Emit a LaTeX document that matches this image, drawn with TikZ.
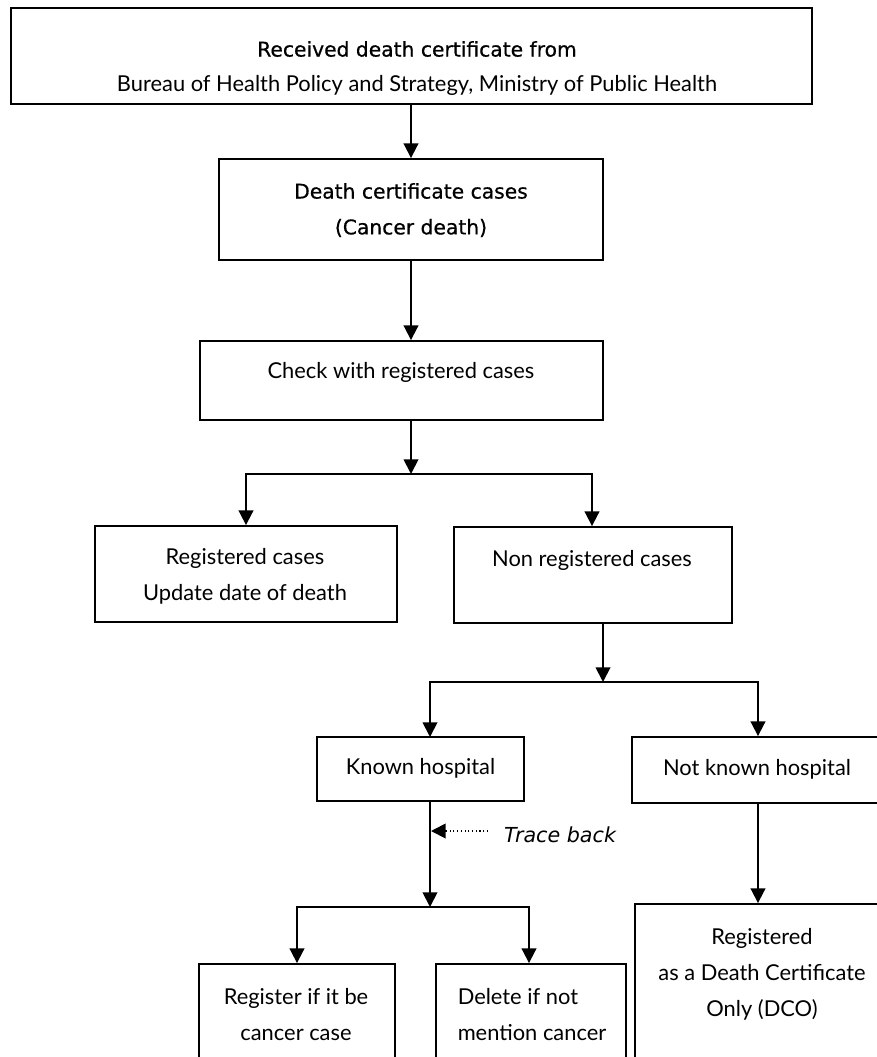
\documentclass[tikz,border=0pt]{standalone}
\usepackage{fontspec}
\setmainfont{Lato}
\newfontfamily\tahfont[FakeBold=0.6]{DejaVu Sans}
\newfontfamily\obfont{DejaVu Sans}
\usetikzlibrary{arrows.meta,calc}
\begin{document}
\begin{tikzpicture}[x=0.75pt,y=-0.75pt,
  box/.style 2 args={draw, line width=1.4pt, inner sep=0pt, minimum width=#1*0.75pt, minimum height=#2*0.75pt},
  txt/.style={inner sep=0pt, align=center, font=\fontsize{16.4}{27}\selectfont},
  tah/.style={inner sep=0pt, align=center, font=\tahfont\fontsize{15.2}{27}\selectfont},
  ln/.style={line width=1.4pt},
  arr/.style={line width=1.4pt, -{Triangle[length=11pt,width=11pt]}}]
\useasboundingbox (0,0) rectangle (877,1057);
% boxes
\node[box={801}{96}] (b1) at (411.5,56) {};
\node[box={384}{101}] (b2) at (411,209.5) {};
\node[box={403}{79}] (b3) at (401.5,380.5) {};
\node[box={302}{96}] (b4) at (246,574) {};
\node[box={278}{96}] (b5) at (593,575) {};
\node[box={207}{64}] (b6) at (420.5,769) {};
\node[box={252}{66}] (b7) at (758,770) {};
\node[box={250}{176}] (b8) at (760,992) {};
\node[box={196}{116}] (b9) at (297,1022) {};
\node[box={190}{116}] (b10) at (531,1022) {};
% texts
\node[tah] (t1a) at (417,49) {Received death certificate from};
\node[txt] (t1b) at (417,85) {Bureau of Health Policy and Strategy, Ministry of Public Health};
\node[tah] (t2a) at (411,191) {Death certificate cases};
\node[tah] (t2b) at (411,228) {(Cancer death)};
\node[txt] (t3) at (401,372) {Check with registered cases};
\node[txt] (t4) at (245,576.5) {Registered cases\\Update date of death};
\node[txt] (t5) at (592,560) {Non registered cases};
\node[txt] (t6) at (420.5,768) {Known hospital};
\node[txt] (t7) at (757,769) {Not known hospital};
\node[txt] (t8) at (762,974) {Registered\\as a Death Certificate\\Only (DCO)};
\node[txt] (t9) at (296,1014.5) {Register if it be\\cancer case};
\node[txt, align=left] (t10) at (532,1014.5) {Delete if not\\mention cancer};
\node[inner sep=0pt, font=\obfont\fontsize{15.5}{18}\selectfont\itshape] (t11) at (560,835) {Trace back};
% split points
\coordinate (s1) at (411,474);
\coordinate (s2) at (603,682);
\coordinate (k) at (430,737);
\coordinate (s3) at (430,907);
\coordinate (tbtip) at (431,831);
\coordinate (tbmid) at (446,831);
\coordinate (tbend) at (488,831);
% connectors
\draw[arr] (b1.south -| b2.north) -- (b2.north);
\draw[arr] (b2.south) -- (b2.south |- b3.north);
\draw[arr] (b3.south -| s1) -- (s1);
\draw[arr] (s1) -| (b4.north);
\draw[arr] (s1) -| (b5.north -| 592,0);
\draw[arr] (b5.south -| s2) -- (s2);
\draw[arr] (s2) -| (k);
\draw[arr] (s2) -| (b7.north);
\draw[arr] (b6.south -| s3) -- (s3);
\draw[arr] (s3) -| (b9.north);
\draw[arr] (s3) -| (b10.north -| 529,0);
\draw[arr] (b7.south) -- (b7.south |- b8.north);
\draw[line width=0.8pt, dotted] (tbend) -- (tbmid);
\draw[arr] (tbmid) -- (tbtip);
\end{tikzpicture}
\end{document}
